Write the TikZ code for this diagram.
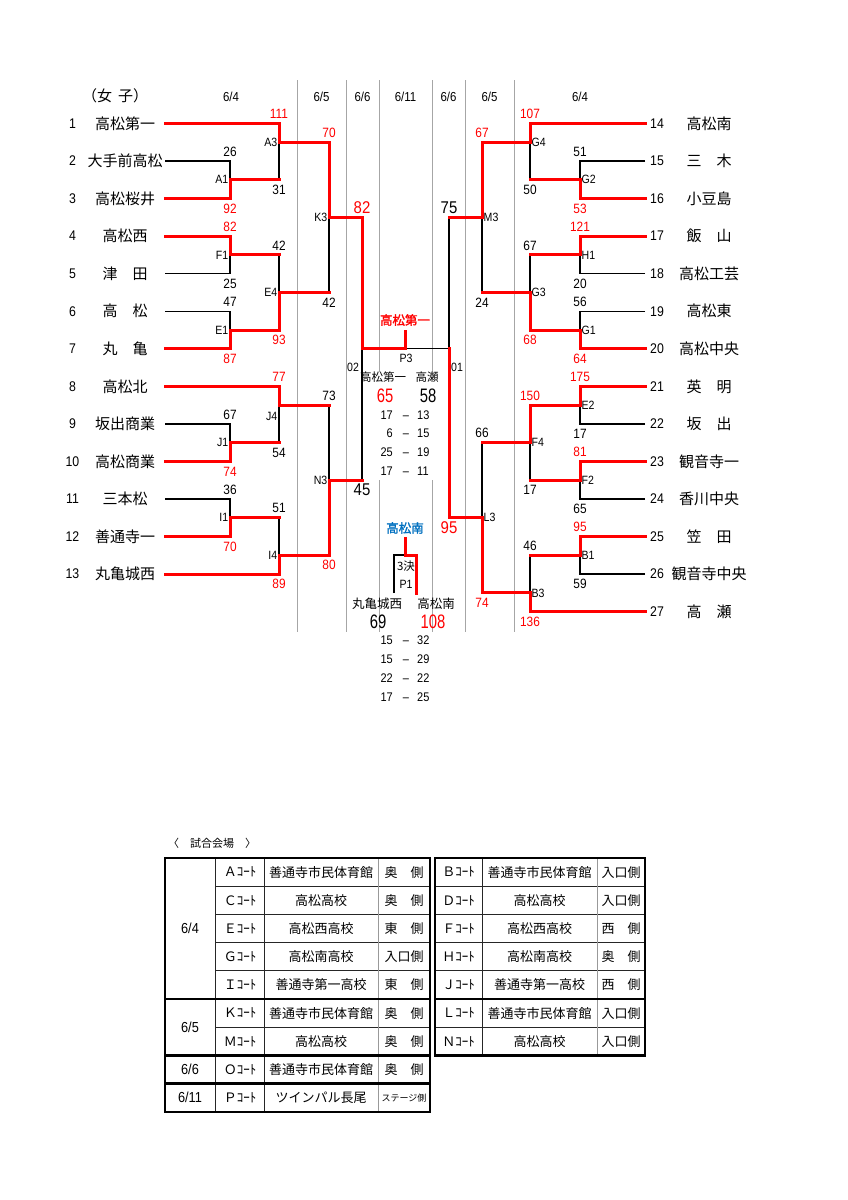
\documentclass[tikz,border=0pt]{standalone}
\usepackage{fontspec}
\setmainfont{Liberation Sans}
\newfontfamily\jp{Noto Sans CJK JP}
\newfontfamily\jpb[FakeBold=1.6]{Noto Sans CJK JP}
\newfontfamily\nf[FakeStretch=0.88]{Liberation Sans}
\newfontfamily\nfc[FakeStretch=0.76]{Liberation Sans}
\definecolor{wblue}{RGB}{0,112,192}
\begin{document}
\begin{tikzpicture}[x=1pt,y=-1pt,
  bwin/.style={draw=red,line width=3pt,line join=miter,line cap=rect},
  blose/.style={draw=black,line width=1.3pt},
  gsep/.style={draw=black!35,line width=0.8pt},
  tname/.style={font=\jp\fontsize{15}{15}\selectfont,inner sep=0pt},
  tnum/.style={font=\nf\fontsize{14}{14}\selectfont,inner sep=0pt},
  scb/.style={font=\nf\fontsize{13.5}{13.5}\selectfont,inner sep=0pt},
  scr/.style={scb,text=red},
  bigb/.style={font=\nf\fontsize{17}{17}\selectfont,inner sep=0pt},
  bigr/.style={bigb,text=red},
  fscb/.style={font=\nfc\fontsize{19.5}{19.5}\selectfont,inner sep=0pt},
  fscr/.style={fscb,text=red},
  crt/.style={font=\nf\fontsize{12}{12}\selectfont,inner sep=0pt},
  hdr/.style={font=\nf\fontsize{13}{13}\selectfont,inner sep=0pt},
  sln/.style={font=\nf\fontsize{12.5}{12.5}\selectfont,inner sep=0pt,anchor=base},
  jsm/.style={font=\jp\fontsize{11.5}{11.5}\selectfont,inner sep=0pt},
  jmd/.style={font=\jp\fontsize{12.5}{12.5}\selectfont,inner sep=0pt},
  jbd/.style={font=\jpb\fontsize{12.5}{12.5}\selectfont,inner sep=0pt},
  cellt/.style={font=\jp\fontsize{13}{13}\selectfont,inner sep=0pt},
  celld/.style={font=\nf\fontsize{14.5}{14.5}\selectfont,inner sep=0pt},
  tthick/.style={draw=black,line width=2.4pt},
  tthin/.style={draw=black!85,line width=0.9pt},
  tgray/.style={draw=black!40,line width=0.9pt},
]
\useasboundingbox[fill=white] (0,0) rectangle (848,1200);

% ---------- gray column separators ----------
\foreach \x in {297,346,465,514} \draw[gsep] (\x,80) -- (\x,632);
\foreach \x in {379,432} {\draw[gsep] (\x,80) -- (\x,372); \draw[gsep] (\x,480) -- (\x,632);}

% ---------- headers ----------
\node[font=\jp\fontsize{15}{15}\selectfont,inner sep=0pt] (hjo) at (115,96) {（女\hspace{6pt}子）};
\node[hdr] (h1) at (231,97) {6/4};
\node[hdr] (h2) at (321.5,97) {6/5};
\node[hdr] (h3) at (362.5,97) {6/6};
\node[hdr] (h4) at (405.5,97) {6/11};
\node[hdr] (h5) at (448.5,97) {6/6};
\node[hdr] (h6) at (489.5,97) {6/5};
\node[hdr] (h7) at (580,97) {6/4};

% ---------- teams ----------
\foreach \i/\y/\t in {1/123.5/高松第一,2/161.05/大手前高松,3/198.6/高松桜井,4/236.15/高松西,
  5/273.7/津　田,6/311.25/高　松,7/348.8/丸　亀,8/386.35/高松北,9/423.9/坂出商業,
  10/461.45/高松商業,11/499.0/三本松,12/536.55/善通寺一,13/574.1/丸亀城西} {
  \coordinate (s\i) at (165,\y);
  \node[tnum] (k\i) at (72.5,\y) {\i};
  \node[tname] (n\i) at (125,\y) {\t};
}
\foreach \i/\y/\t in {14/123.5/高松南,15/161.05/三　木,16/198.6/小豆島,17/236.15/飯　山,
  18/273.7/高松工芸,19/311.25/高松東,20/348.8/高松中央,21/386.35/英　明,22/423.9/坂　出,
  23/461.45/観音寺一,24/499.0/香川中央,25/536.55/笠　田,26/574.1/観音寺中央,27/611.65/高　瀬} {
  \coordinate (s\i) at (645,\y);
  \node[tnum] (k\i) at (657,\y) {\i};
  \node[tname] (n\i) at (709,\y) {\t};
}

% ---------- junctions ----------
\coordinate (A1) at (230,179.8);
\coordinate (F1) at (230,254.9);
\coordinate (E1) at (230,330.0);
\coordinate (J1) at (230,442.7);
\coordinate (I1) at (230,517.8);
\coordinate (A3) at (279,142.3);
\coordinate (E4) at (279,292.5);
\coordinate (J4) at (279,405.1);
\coordinate (I4) at (279,555.3);
\coordinate (K3) at (329,217.4);
\coordinate (N3) at (329,480.2);
\coordinate (O2) at (362,348.8);
\coordinate (P3) at (405,348.8);
\coordinate (P3t) at (405,331);
\coordinate (O1) at (449,348.8);
\coordinate (G2) at (580,179.8);
\coordinate (H1) at (580,254.9);
\coordinate (G1) at (580,330.0);
\coordinate (E2) at (580,405.1);
\coordinate (F2) at (580,480.2);
\coordinate (B1) at (580,555.3);
\coordinate (G4) at (530,142.3);
\coordinate (G3) at (530,292.5);
\coordinate (F4) at (530,442.7);
\coordinate (B3) at (530,592.9);
\coordinate (M3) at (482,217.4);
\coordinate (L3) at (482,517.8);
\coordinate (Q) at (405,555);
\coordinate (Qt) at (405,538);
\coordinate (QL) at (394,593);
\coordinate (QR) at (416,593);

% ---------- losing (black) lines ----------
\draw[blose] (s2) -- (s2 -| A1) -- (A1);
\draw[blose] (A1 -| A3) -- (A3);
\draw[blose] (F1 -| E4) -- (E4);
\draw[blose] (s5) -- (s5 -| F1) -- (F1);
\draw[blose] (s6) -- (s6 -| E1) -- (E1);
\draw[blose] (E4 -| K3) -- (K3);
\draw[blose] (J4 -| N3) -- (N3);
\draw[blose] (s9) -- (s9 -| J1) -- (J1);
\draw[blose] (J1 -| J4) -- (J4);
\draw[blose] (s11) -- (s11 -| I1) -- (I1);
\draw[blose] (I1 -| I4) -- (I4);
\draw[blose] (N3 -| O2) -- (O2);
\draw[blose] (M3 -| O1) -- (O1);
\draw[blose] (s15) -- (s15 -| G2) -- (G2);
\draw[blose] (G2 -| G4) -- (G4);
\draw[blose] (H1 -| G3) -- (G3);
\draw[blose] (s18) -- (s18 -| H1) -- (H1);
\draw[blose] (s19) -- (s19 -| G1) -- (G1);
\draw[blose] (G3 -| M3) -- (M3);
\draw[blose] (F4 -| L3) -- (L3);
\draw[blose] (s22) -- (s22 -| E2) -- (E2);
\draw[blose] (F2 -| F4) -- (F4);
\draw[blose] (s24) -- (s24 -| F2) -- (F2);
\draw[blose] (B1 -| B3) -- (B3);
\draw[blose] (s26) -- (s26 -| B1) -- (B1);
\draw[blose] (O1) -- (P3);
\draw[blose] (QL) -- (QL |- Q) -- (Q);

% ---------- winning (red) lines ----------
\draw[bwin] (s1) -- (s1 -| A3) -- (A3) -- (A3 -| K3) -- (K3) -- (K3 -| O2) -- (O2) -- (P3) -- (P3t);
\draw[bwin] (s3) -- (s3 -| A1) -- (A1) -- (A1 -| A3);
\draw[bwin] (s4) -- (s4 -| F1) -- (F1) -- (F1 -| E4);
\draw[bwin] (s7) -- (s7 -| E1) -- (E1) -- (E1 -| E4) -- (E4) -- (E4 -| K3);
\draw[bwin] (s8) -- (s8 -| J4) -- (J4) -- (J4 -| N3);
\draw[bwin] (s10) -- (s10 -| J1) -- (J1) -- (J1 -| J4);
\draw[bwin] (s12) -- (s12 -| I1) -- (I1) -- (I1 -| I4);
\draw[bwin] (s13) -- (s13 -| I4) -- (I4) -- (I4 -| N3) -- (N3) -- (N3 -| O2);
\draw[bwin] (s14) -- (s14 -| G4) -- (G4) -- (G4 -| M3) -- (M3) -- (M3 -| O1);
\draw[bwin] (s16) -- (s16 -| G2) -- (G2) -- (G2 -| G4);
\draw[bwin] (s17) -- (s17 -| H1) -- (H1) -- (H1 -| G3);
\draw[bwin] (s20) -- (s20 -| G1) -- (G1) -- (G1 -| G3) -- (G3) -- (G3 -| M3);
\draw[bwin] (s21) -- (s21 -| E2) -- (E2) -- (E2 -| F4) -- (F4) -- (F4 -| L3);
\draw[bwin] (s23) -- (s23 -| F2) -- (F2) -- (F2 -| F4);
\draw[bwin] (s25) -- (s25 -| B1) -- (B1) -- (B1 -| B3);
\draw[bwin] (s27) -- (s27 -| B3) -- (B3) -- (B3 -| L3) -- (L3) -- (L3 -| O1) -- (O1);
\draw[bwin] (QR) -- (QR |- Q) -- (Q) -- (Qt);

% ---------- court labels ----------
\foreach \c in {A1,F1,E1,J1,I1,A3,E4,I4,K3,N3}
  \node[crt,anchor=east,xshift=-1.5pt] (l\c) at (\c) {\c};
\node[crt,anchor=east] (lJ4) at (277.5,416) {J4};
\foreach \c in {G2,H1,G1,E2,F2,B1,G4,G3,F4,B3,M3,L3}
  \node[crt,anchor=west,xshift=1.5pt] (l\c) at (\c) {\c};
\node[crt] (lO2) at (353,367) {02};
\node[crt] (lO1) at (457,367) {01};

% ---------- scores left ----------
\node[scb,yshift=9.5pt] (a1) at (s2 -| A1) {26};
\node[scr,yshift=-10pt] (a2) at (s3 -| A1) {92};
\node[scr,yshift=9.5pt] (a3) at (s1 -| A3) {111};
\node[scb,yshift=-10pt] (a4) at (A1 -| A3) {31};
\node[scr,yshift=9.5pt] (a5) at (s4 -| F1) {82};
\node[scb,yshift=-10pt] (a6) at (s5 -| F1) {25};
\node[scb,yshift=9.5pt] (a7) at (s6 -| E1) {47};
\node[scr,yshift=-10pt] (a8) at (s7 -| E1) {87};
\node[scb,yshift=9.5pt] (a9) at (F1 -| E4) {42};
\node[scr,yshift=-10pt] (a10) at (E1 -| E4) {93};
\node[scr,yshift=9.5pt] (a11) at (A3 -| K3) {70};
\node[scb,yshift=-10pt] (a12) at (E4 -| K3) {42};
\node[scr,yshift=9.5pt] (a13) at (s8 -| J4) {77};
\node[scb,yshift=-10pt] (a14) at (J1 -| J4) {54};
\node[scb,yshift=9.5pt] (a15) at (s9 -| J1) {67};
\node[scr,yshift=-10pt] (a16) at (s10 -| J1) {74};
\node[scb,yshift=9.5pt] (a17) at (s11 -| I1) {36};
\node[scr,yshift=-10pt] (a18) at (s12 -| I1) {70};
\node[scb,yshift=9.5pt] (a19) at (I1 -| I4) {51};
\node[scr,yshift=-10pt] (a20) at (s13 -| I4) {89};
\node[scb,yshift=9.5pt] (a21) at (J4 -| N3) {73};
\node[scr,yshift=-10pt] (a22) at (I4 -| N3) {80};
\node[bigr,yshift=10pt] (a23) at (K3 -| O2) {82};
\node[bigb,yshift=-10pt] (a24) at (N3 -| O2) {45};

% ---------- scores right ----------
\node[scr,yshift=9.5pt] (b1) at (s14 -| G4) {107};
\node[scb,yshift=-10pt] (b2) at (G2 -| G4) {50};
\node[scb,yshift=9.5pt] (b3) at (s15 -| G2) {51};
\node[scr,yshift=-10pt] (b4) at (s16 -| G2) {53};
\node[scr,yshift=9.5pt] (b5) at (s17 -| H1) {121};
\node[scb,yshift=-10pt] (b6) at (s18 -| H1) {20};
\node[scb,yshift=9.5pt] (b7) at (s19 -| G1) {56};
\node[scr,yshift=-10pt] (b8) at (s20 -| G1) {64};
\node[scb,yshift=9.5pt] (b9) at (H1 -| G3) {67};
\node[scr,yshift=-10pt] (b10) at (G1 -| G3) {68};
\node[scr,yshift=9.5pt] (b11) at (G4 -| M3) {67};
\node[scb,yshift=-10pt] (b12) at (G3 -| M3) {24};
\node[scr,yshift=9.5pt] (b13) at (s21 -| E2) {175};
\node[scb,yshift=-10pt] (b14) at (s22 -| E2) {17};
\node[scr,yshift=9.5pt] (b15) at (s23 -| F2) {81};
\node[scb,yshift=-10pt] (b16) at (s24 -| F2) {65};
\node[scr,yshift=9.5pt] (b17) at (E2 -| F4) {150};
\node[scb,yshift=-10pt] (b18) at (F2 -| F4) {17};
\node[scr,yshift=9.5pt] (b19) at (s25 -| B1) {95};
\node[scb,yshift=-10pt] (b20) at (s26 -| B1) {59};
\node[scb,yshift=9.5pt] (b21) at (B1 -| B3) {46};
\node[scr,yshift=-10pt] (b22) at (s27 -| B3) {136};
\node[scb,yshift=9.5pt] (b23) at (F4 -| L3) {66};
\node[scr,yshift=-10pt] (b24) at (B3 -| L3) {74};
\node[bigb,yshift=10pt] (b25) at (M3 -| O1) {75};
\node[bigr,yshift=-10pt] (b26) at (L3 -| O1) {95};

% ---------- final ----------
\node[jbd,text=red] (champ) at (405,320) {高松第一};
\node[crt] (lP3) at (406,358) {P3};
\node[jsm] (fa) at (383,377) {高松第一};
\node[jsm] (fb) at (427,377) {高瀬};
\node[fscr] (fsa) at (385,395.5) {65};
\node[fscb] (fsb) at (428,395.5) {58};
\foreach \y/\a/\b [count=\i] in {415/17/13,433/6/15,452/25/19,471/17/11} {
  \node[sln,anchor=base east] (pa\i) at (393,\y+4.4) {\a};
  \node[sln] (pd\i) at (406,\y+4.4) {–};
  \node[sln,anchor=base west] (pb\i) at (417,\y+4.4) {\b};
}

% ---------- third place ----------
\node[jbd,text=wblue] (third) at (405,528) {高松南};
\node[jsm] (l3k) at (406,566) {3決};
\node[crt] (lP1) at (406,584) {P1};
\node[jmd] (ta) at (377,604) {丸亀城西};
\node[jmd] (tb) at (436,604) {高松南};
\node[fscb] (tsa) at (378,622) {69};
\node[fscr] (tsb) at (433,622) {108};
\foreach \y/\a/\b [count=\i] in {640/15/32,659/15/29,678/22/22,697/17/25} {
  \node[sln,anchor=base east] (qa\i) at (393,\y+4.4) {\a};
  \node[sln] (qd\i) at (406,\y+4.4) {–};
  \node[sln,anchor=base west] (qb\i) at (417,\y+4.4) {\b};
}

% ---------- venue table ----------
\node[font=\jp\fontsize{11}{11}\selectfont,inner sep=0pt] (vt) at (212,843) {〈　試合会場　〉};
% left table thin lines
\foreach \k in {1,2,3,4,6} \draw[tthin] (215,{858+28.2*\k}) -- (430,{858+28.2*\k});
\draw[tthin] (215,858) -- (215,1111.8);
\draw[tthin] (264,858) -- (264,1111.8);
\draw[tgray] (378,858) -- (378,1111.8);
% right table thin lines
\foreach \k in {1,2,3,4,6} \draw[tthin] (435,{858+28.2*\k}) -- (645,{858+28.2*\k});
\draw[tthin] (482,858) -- (482,1055.4);
\draw[tgray] (597,858) -- (597,1055.4);
% thick
\draw[tthick] (165,858) rectangle (430,1111.8);
\foreach \k in {5,7,8} \draw[tthick] (165,{858+28.2*\k}) -- (430,{858+28.2*\k});
\draw[tthick] (435,858) rectangle (645,1055.4);
\draw[tthick] (435,999) -- (645,999);
% dates
\node[celld] (d1) at (190,928.5) {6/4};
\node[celld] (d2) at (190,1027.2) {6/5};
\node[celld] (d3) at (190,1069.5) {6/6};
\node[celld] (d4) at (190,1097.7) {6/11};
% left rows
\foreach \r/\c/\v/\s in {0/Ａ/善通寺市民体育館/奥　側,1/Ｃ/高松高校/奥　側,2/Ｅ/高松西高校/東　側,
  3/Ｇ/高松南高校/入口側,4/Ｉ/善通寺第一高校/東　側,5/Ｋ/善通寺市民体育館/奥　側,
  6/Ｍ/高松高校/奥　側,7/Ｏ/善通寺市民体育館/奥　側} {
  \node[cellt] (cl\r) at (240,{872.1+28.2*\r}) {\c ｺｰﾄ};
  \node[cellt] (vl\r) at (321,{872.1+28.2*\r}) {\v};
  \node[cellt] (sl\r) at (404,{872.1+28.2*\r}) {\s};
}
\node[cellt] (cl8) at (240,1097.7) {Ｐｺｰﾄ};
\node[cellt] (vl8) at (321,1097.7) {ツインパル長尾};
\node[font=\jp\fontsize{9}{9}\selectfont,inner sep=0pt] (sl8) at (404,1097.7) {ステージ側};
% right rows
\foreach \r/\c/\v/\s in {0/Ｂ/善通寺市民体育館/入口側,1/Ｄ/高松高校/入口側,2/Ｆ/高松西高校/西　側,
  3/Ｈ/高松南高校/奥　側,4/Ｊ/善通寺第一高校/西　側,5/Ｌ/善通寺市民体育館/入口側,
  6/Ｎ/高松高校/入口側} {
  \node[cellt] (cr\r) at (458.5,{872.1+28.2*\r}) {\c ｺｰﾄ};
  \node[cellt] (vr\r) at (539.5,{872.1+28.2*\r}) {\v};
  \node[cellt] (sr\r) at (621,{872.1+28.2*\r}) {\s};
}
\end{tikzpicture}
\end{document}
